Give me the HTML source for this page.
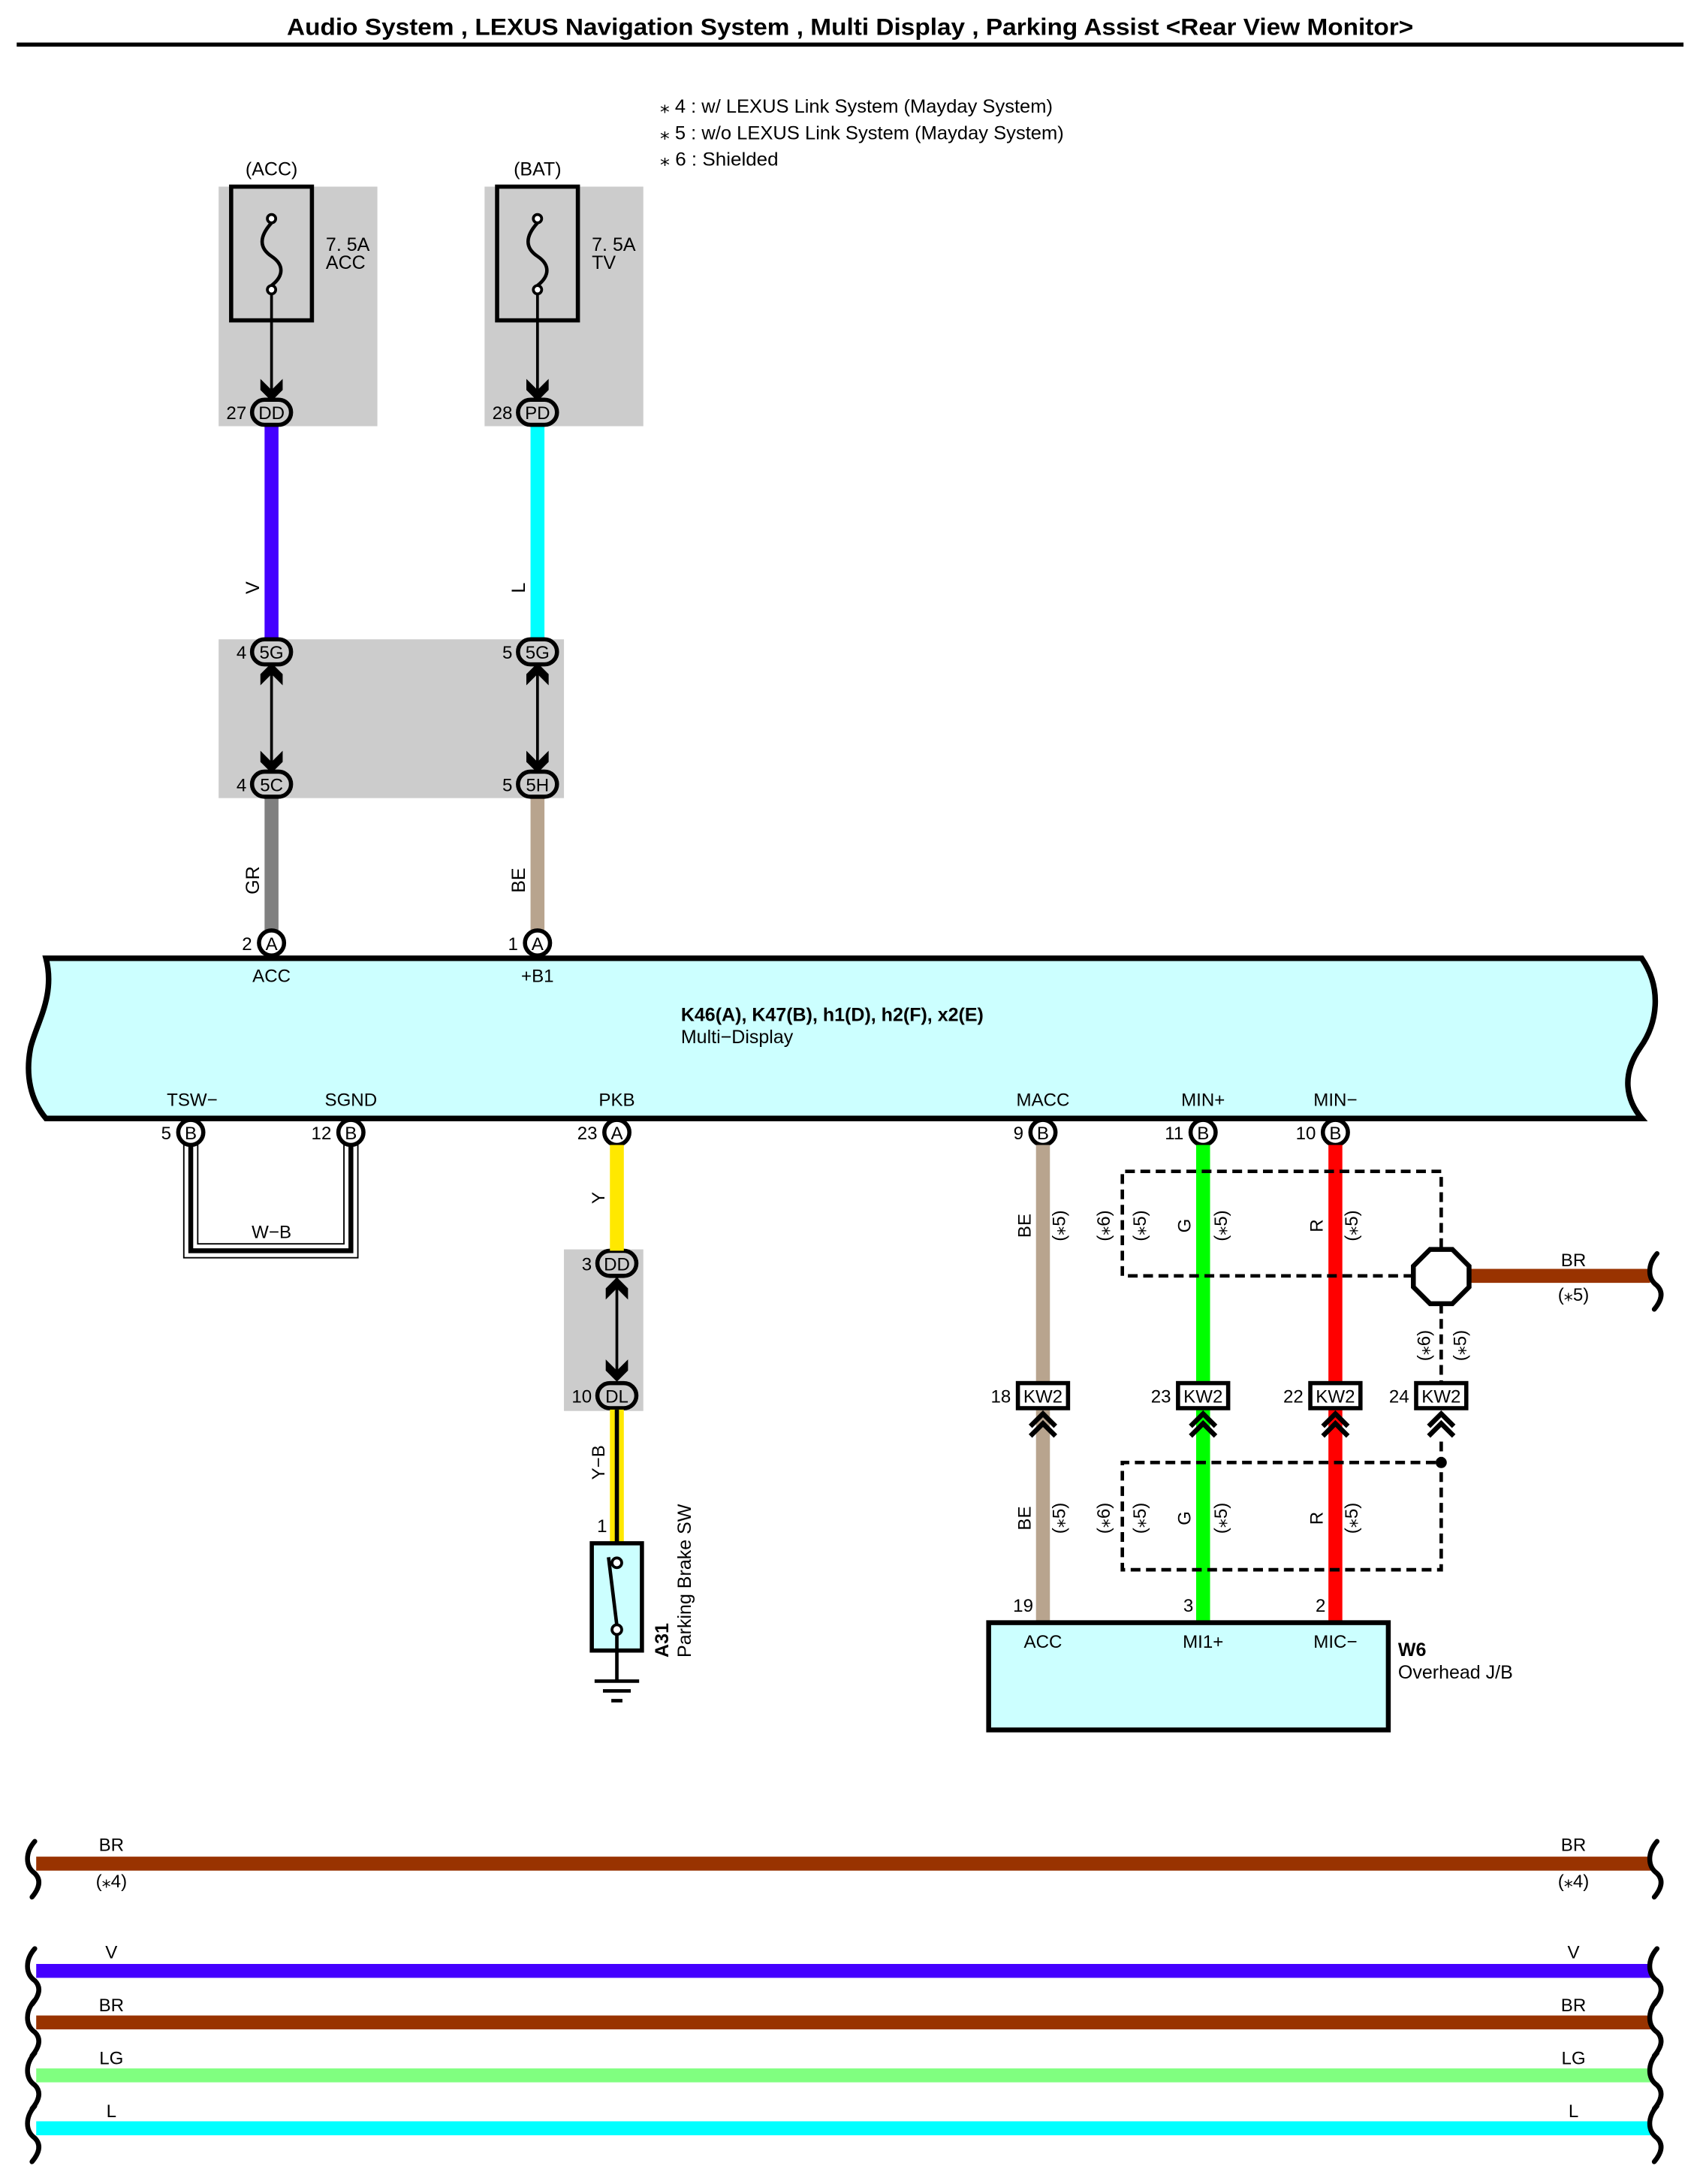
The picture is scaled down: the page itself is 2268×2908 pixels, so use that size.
<!DOCTYPE html>
<html><head><meta charset="utf-8"><style>
html,body{margin:0;padding:0;background:#fff;}
svg{display:block;}
text{font-family:"Liberation Sans",Arial,sans-serif;fill:#000;}
</style></head><body>
<svg width="2268" height="2908" viewBox="0 0 1223 1568" preserveAspectRatio="none" xmlns="http://www.w3.org/2000/svg">
<defs>
<g id="chevD"><path d="M-8,-12 L0,-4 L8,-12 L8,-4 L0,4 L-8,-4 Z" fill="#000"/></g>
<g id="dchev"><path d="M-9,8 L0,-1 L9,8 M-9,15 L0,6 L9,15" fill="none" stroke="#000" stroke-width="3.5"/></g>
</defs>
<g>
<text x="206" y="25" font-size="17" font-weight="bold" textLength="809" lengthAdjust="spacingAndGlyphs">Audio System , LEXUS Navigation System , Multi Display , Parking Assist &lt;Rear View Monitor&gt;</text>
<line x1="12" y1="32" x2="1209" y2="32" stroke="#000" stroke-width="3"/>
<g font-size="13.5">
<text x="474" y="81" textLength="282" lengthAdjust="spacingAndGlyphs">⁎ 4 : w/ LEXUS Link System (Mayday System)</text>
<text x="474" y="100" textLength="290" lengthAdjust="spacingAndGlyphs">⁎ 5 : w/o LEXUS Link System (Mayday System)</text>
<text x="474" y="119" textLength="85" lengthAdjust="spacingAndGlyphs">⁎ 6 : Shielded</text>
</g>
<rect x="157" y="134" width="114" height="172" fill="#cccccc"/>
<rect x="348" y="134" width="114" height="172" fill="#cccccc"/>
<rect x="157" y="459" width="248" height="114" fill="#cccccc"/>
<rect x="405" y="897" width="57" height="116" fill="#cccccc"/>
<text x="195" y="126" font-size="13.5" text-anchor="middle">(ACC)</text>
<text x="386" y="126" font-size="13.5" text-anchor="middle">(BAT)</text>
<g id="fuse1">
<rect x="166" y="134" width="58" height="96" fill="none" stroke="#000" stroke-width="3"/>
<path d="M195,160 C186,170 186,178 195,184 C204,190 204,198 195,205" fill="none" stroke="#000" stroke-width="2.5"/>
<circle cx="195" cy="157" r="3" fill="#fff" stroke="#000" stroke-width="2"/>
<circle cx="195" cy="208" r="3" fill="#fff" stroke="#000" stroke-width="2"/>
<line x1="195" y1="211" x2="195" y2="280" stroke="#000" stroke-width="2"/>
<use href="#chevD" x="195" y="284"/>
</g>
<use href="#fuse1" x="191"/>
<text x="234" y="180" font-size="13.5">7. 5A</text><text x="234" y="193" font-size="13.5">ACC</text>
<text x="425" y="180" font-size="13.5">7. 5A</text><text x="425" y="193" font-size="13.5">TV</text>
<line x1="195" y1="305" x2="195" y2="459" stroke="#4400ff" stroke-width="10"/>
<line x1="386" y1="305" x2="386" y2="459" stroke="#00ffff" stroke-width="10"/>
<line x1="195" y1="573" x2="195" y2="670" stroke="#808080" stroke-width="10"/>
<line x1="386" y1="573" x2="386" y2="670" stroke="#b8a48e" stroke-width="10"/>
<g font-size="13.5">
<text transform="translate(186,422) rotate(-90)" text-anchor="middle">V</text>
<text transform="translate(377,422) rotate(-90)" text-anchor="middle">L</text>
<text transform="translate(186,632) rotate(-90)" text-anchor="middle">GR</text>
<text transform="translate(377,632) rotate(-90)" text-anchor="middle">BE</text>
</g>
<g id="dbl">
<line x1="195" y1="478" x2="195" y2="553" stroke="#000" stroke-width="2"/>
<use href="#chevD" x="195" y="551"/>
<use href="#chevD" transform="translate(195,480) scale(1,-1)"/>
</g>
<use href="#dbl" x="191"/>
<g stroke="#000" stroke-width="3" fill="#cccccc">
<rect x="181" y="287" width="28" height="18" rx="9"/>
<rect x="372" y="287" width="28" height="18" rx="9"/>
<rect x="181" y="459" width="28" height="18" rx="9"/>
<rect x="372" y="459" width="28" height="18" rx="9"/>
<rect x="181" y="554" width="28" height="18" rx="9"/>
<rect x="372" y="554" width="28" height="18" rx="9"/>
<rect x="429" y="898" width="28" height="18" rx="9"/>
<rect x="429" y="993" width="28" height="18" rx="9"/>
</g>
<g font-size="13" text-anchor="middle">
<text x="195" y="301">DD</text><text x="386" y="301">PD</text>
<text x="195" y="473">5G</text><text x="386" y="473">5G</text>
<text x="195" y="568">5C</text><text x="386" y="568">5H</text>
<text x="443" y="912">DD</text><text x="443" y="1007">DL</text>
</g>
<g font-size="13" text-anchor="end">
<text x="177" y="301">27</text><text x="368" y="301">28</text>
<text x="177" y="473">4</text><text x="368" y="473">5</text>
<text x="177" y="568">4</text><text x="368" y="568">5</text>
<text x="425" y="912">3</text><text x="425" y="1007">10</text>
</g>
<path d="M33,688 L1179,688 C1194,710 1190,735 1178,752 C1164,772 1168,790 1179,803 L33,803 C22,790 18,772 22,752 C26,735 40,715 33,688 Z" fill="#ccffff" stroke="#000" stroke-width="4"/>
<g stroke="#000" stroke-width="3" fill="#fff">
<circle cx="195" cy="677" r="9"/><circle cx="386" cy="677" r="9"/>
<circle cx="137" cy="813" r="9"/><circle cx="252" cy="813" r="9"/><circle cx="443" cy="813" r="9"/>
<circle cx="749" cy="813" r="9"/><circle cx="864" cy="813" r="9"/><circle cx="959" cy="813" r="9"/>
</g>
<g font-size="13" text-anchor="middle">
<text x="195" y="682">A</text><text x="386" y="682">A</text>
<text x="137" y="818">B</text><text x="252" y="818">B</text><text x="443" y="818">A</text>
<text x="749" y="818">B</text><text x="864" y="818">B</text><text x="959" y="818">B</text>
<text x="195" y="705">ACC</text><text x="386" y="705">+B1</text>
<text x="138" y="794">TSW−</text><text x="252" y="794">SGND</text><text x="443" y="794">PKB</text>
<text x="749" y="794">MACC</text><text x="864" y="794">MIN+</text><text x="959" y="794">MIN−</text>
</g>
<g font-size="13" text-anchor="end">
<text x="181" y="682">2</text><text x="372" y="682">1</text>
<text x="123" y="818">5</text><text x="238" y="818">12</text><text x="429" y="818">23</text>
<text x="735" y="818">9</text><text x="850" y="818">11</text><text x="945" y="818">10</text>
</g>
<text x="489" y="733" font-size="13.5" font-weight="bold">K46(A), K47(B), h1(D), h2(F), x2(E)</text>
<text x="489" y="749" font-size="13.5">Multi−Display</text>
<path d="M132,822 L132,903 L257,903 L257,822" fill="none" stroke="#000" stroke-width="1"/>
<path d="M142,822 L142,893 L247,893 L247,822" fill="none" stroke="#000" stroke-width="1"/>
<path d="M137,822 L137,898 L252,898 L252,822" fill="none" stroke="#000" stroke-width="3.5"/>
<text x="195" y="889" font-size="13" text-anchor="middle">W−B</text>
<line x1="443" y1="822" x2="443" y2="898" stroke="#ffe800" stroke-width="10"/>
<text transform="translate(434,860) rotate(-90)" font-size="13" text-anchor="middle">Y</text>
<line x1="443" y1="917" x2="443" y2="990" stroke="#000" stroke-width="2"/>
<use href="#chevD" x="443" y="988"/>
<use href="#chevD" transform="translate(443,921) scale(1,-1)"/>
<line x1="443" y1="1012" x2="443" y2="1107" stroke="#ffe800" stroke-width="10"/>
<line x1="443" y1="1012" x2="443" y2="1125" stroke="#000" stroke-width="3"/>
<text transform="translate(434,1050) rotate(-90)" font-size="13" text-anchor="middle">Y−B</text>
<text x="436" y="1100" font-size="13" text-anchor="end">1</text>
<rect x="425" y="1108" width="36" height="77" fill="#ccffff" stroke="#000" stroke-width="3"/>
<circle cx="443" cy="1122" r="3.5" fill="#fff" stroke="#000" stroke-width="2"/>
<line x1="437" y1="1118" x2="443" y2="1167" stroke="#000" stroke-width="2.5"/>
<circle cx="443" cy="1170" r="3.5" fill="#fff" stroke="#000" stroke-width="2"/>
<line x1="443" y1="1174" x2="443" y2="1207" stroke="#000" stroke-width="2.5"/>
<line x1="427" y1="1207" x2="459" y2="1207" stroke="#000" stroke-width="2.5"/>
<line x1="433" y1="1214" x2="453" y2="1214" stroke="#000" stroke-width="2.5"/>
<line x1="439" y1="1221" x2="447" y2="1221" stroke="#000" stroke-width="2.5"/>
<text transform="translate(480,1190) rotate(-90)" font-size="13.5" font-weight="bold">A31</text>
<text transform="translate(496,1190) rotate(-90)" font-size="13.5">Parking Brake SW</text>
<line x1="749" y1="822" x2="749" y2="1165" stroke="#b8a48e" stroke-width="10"/>
<line x1="864" y1="822" x2="864" y2="1165" stroke="#00ff00" stroke-width="10"/>
<line x1="959" y1="822" x2="959" y2="1165" stroke="#ff0000" stroke-width="10"/>
<line x1="1055" y1="916" x2="1185" y2="916" stroke="#993300" stroke-width="10"/>
<g fill="none" stroke="#000" stroke-width="2.5" stroke-dasharray="7,4">
<path d="M1015,916 L806,916 L806,841 L1035,841 L1035,896"/>
<path d="M1035,936 L1035,993"/>
<path d="M1035,1035 L1035,1127 L806,1127 L806,1050 L1035,1050"/>
</g>
<circle cx="1035" cy="1050" r="4" fill="#000"/>
<polygon points="1027,897 1043,897 1055,909 1055,924 1043,936 1027,936 1015,924 1015,909" fill="#fff" stroke="#000" stroke-width="3.5"/>
<text x="1130" y="909" font-size="13" text-anchor="middle">BR</text>
<text x="1130" y="934" font-size="13" text-anchor="middle">(⁎5)</text>
<g stroke="#000" stroke-width="3" fill="#fff">
<rect x="731" y="993" width="36" height="18"/><rect x="846" y="993" width="36" height="18"/>
<rect x="941" y="993" width="36" height="18"/><rect x="1017" y="993" width="36" height="18"/>
</g>
<g font-size="13" text-anchor="middle">
<text x="749" y="1007">KW2</text><text x="864" y="1007">KW2</text><text x="959" y="1007">KW2</text><text x="1035" y="1007">KW2</text>
</g>
<g font-size="13" text-anchor="end">
<text x="726" y="1007">18</text><text x="841" y="1007">23</text><text x="936" y="1007">22</text><text x="1012" y="1007">24</text>
</g>
<use href="#dchev" x="749" y="1016"/><use href="#dchev" x="864" y="1016"/>
<use href="#dchev" x="959" y="1016"/><use href="#dchev" x="1035" y="1016"/>
<g font-size="13" text-anchor="middle">
<text transform="translate(740,880) rotate(-90)">BE</text>
<text transform="translate(765,880) rotate(-90)">(⁎5)</text>
<text transform="translate(797,880) rotate(-90)">(⁎6)</text>
<text transform="translate(823,880) rotate(-90)">(⁎5)</text>
<text transform="translate(855,880) rotate(-90)">G</text>
<text transform="translate(881,880) rotate(-90)">(⁎5)</text>
<text transform="translate(950,880) rotate(-90)">R</text>
<text transform="translate(975,880) rotate(-90)">(⁎5)</text>
<text transform="translate(740,1090) rotate(-90)">BE</text>
<text transform="translate(765,1090) rotate(-90)">(⁎5)</text>
<text transform="translate(797,1090) rotate(-90)">(⁎6)</text>
<text transform="translate(823,1090) rotate(-90)">(⁎5)</text>
<text transform="translate(855,1090) rotate(-90)">G</text>
<text transform="translate(881,1090) rotate(-90)">(⁎5)</text>
<text transform="translate(950,1090) rotate(-90)">R</text>
<text transform="translate(975,1090) rotate(-90)">(⁎5)</text>
<text transform="translate(1027,966) rotate(-90)">(⁎6)</text>
<text transform="translate(1053,966) rotate(-90)">(⁎5)</text>
</g>
<rect x="710" y="1165" width="287" height="77" fill="#ccffff" stroke="#000" stroke-width="3.5"/>
<g font-size="13" text-anchor="middle">
<text x="749" y="1183">ACC</text><text x="864" y="1183">MI1+</text><text x="959" y="1183">MIC−</text>
</g>
<g font-size="13" text-anchor="end">
<text x="742" y="1157">19</text><text x="857" y="1157">3</text><text x="952" y="1157">2</text>
</g>
<text x="1004" y="1189" font-size="13.5" font-weight="bold">W6</text>
<text x="1004" y="1205" font-size="13.5">Overhead J/B</text>
<g stroke-width="10">
<line x1="26" y1="1338" x2="1186" y2="1338" stroke="#993300"/>
<line x1="26" y1="1415" x2="1186" y2="1415" stroke="#4400ff"/>
<line x1="26" y1="1452" x2="1186" y2="1452" stroke="#993300"/>
<line x1="26" y1="1490" x2="1186" y2="1490" stroke="#80ff80"/>
<line x1="26" y1="1528" x2="1186" y2="1528" stroke="#00ffff"/>
</g>
<g fill="none" stroke="#000" stroke-width="3.5" stroke-linecap="round">
<path id="brk" d="M25,1322 C18,1330 18,1340 25,1345 C30,1350 28,1356 23,1362"/>
<use href="#brk" y="77"/><use href="#brk" y="114"/><use href="#brk" y="152"/><use href="#brk" y="190"/>
<use href="#brk" x="1165"/><use href="#brk" x="1165" y="77"/><use href="#brk" x="1165" y="114"/><use href="#brk" x="1165" y="152"/><use href="#brk" x="1165" y="190"/>
<use href="#brk" x="1165" y="-422"/>
</g>
<g font-size="13" text-anchor="middle">
<text x="80" y="1329">BR</text><text x="1130" y="1329">BR</text>
<text x="80" y="1355">(⁎4)</text><text x="1130" y="1355">(⁎4)</text>
<text x="80" y="1406">V</text><text x="1130" y="1406">V</text>
<text x="80" y="1444">BR</text><text x="1130" y="1444">BR</text>
<text x="80" y="1482">LG</text><text x="1130" y="1482">LG</text>
<text x="80" y="1520">L</text><text x="1130" y="1520">L</text>
</g>
</g>
</svg>
</body></html>
